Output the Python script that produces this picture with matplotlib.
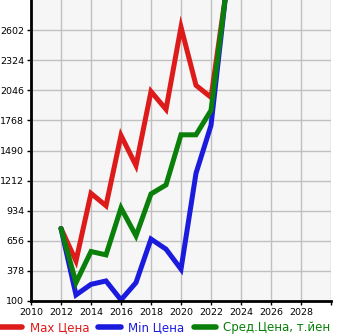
import matplotlib
matplotlib.use("Agg")
import matplotlib.pyplot as plt
from matplotlib.lines import Line2D

years = [2012, 2013, 2014, 2015, 2016, 2017, 2018, 2019, 2020, 2021, 2022, 2023]
max_price = [770, 470, 1094, 980, 1629, 1351, 2035, 1870, 2630, 2092, 1981, 2950]
min_price = [770, 156, 254, 285, 110, 270, 672, 579, 394, 1280, 1722, 2950]
avg_price = [770, 270, 557, 526, 959, 702, 1089, 1172, 1635, 1635, 1861, 2950]

yticks = [100, 378, 656, 934, 1212, 1490, 1768, 2046, 2324, 2602]
xticks = [2010, 2012, 2014, 2016, 2018, 2020, 2022, 2024, 2026, 2028, 2030]
xticklabels = ["2010", "2012", "2014", "2016", "2018", "2020", "2022", "2024", "2026", "2028", ""]
labels = ["Max Цена", "Min Цена", "Сред.Цена, т.йен"]
colors = ["#dd1b1b", "#1b1bdd", "#0a7f0a"]

fig = plt.figure(figsize=(3.45, 3.35), dpi=100)
ax = fig.add_axes([31/345, 34/335, 300/345, 301/335])
ax.set_facecolor("#f6f6f6")

for ys, c in zip([max_price, min_price, avg_price], colors):
    ax.plot(years, ys, color=c, lw=3.6, solid_capstyle="round", solid_joinstyle="miter")

ax.set_xlim(2010, 2030)
ax.set_ylim(100, 2880)
ax.set_yticks(yticks)
ax.set_xticks(xticks)
ax.set_xticklabels(xticklabels)
ax.grid(True, color="#c0c0c0", lw=1)
ax.set_axisbelow(True)
for s in ["top", "right"]:
    ax.spines[s].set_visible(False)
ax.spines["left"].set_linewidth(2)
ax.spines["bottom"].set_linewidth(2)
ax.tick_params(axis="both", labelsize=6.8, length=3, width=1, pad=2, colors="black")

handles = [Line2D([0], [0], color=c, lw=4, solid_capstyle="round") for c in colors]
leg = fig.legend(handles, labels, loc="lower left", bbox_to_anchor=(0.0, 0.004), ncol=3,
                 frameon=False, fontsize=8.5, handlelength=1.9, handletextpad=0.6, columnspacing=0.8,
                 borderaxespad=0, borderpad=0.0)
for t, c in zip(leg.get_texts(), colors):
    t.set_color(c)

fig.savefig("out.png", dpi=100)
